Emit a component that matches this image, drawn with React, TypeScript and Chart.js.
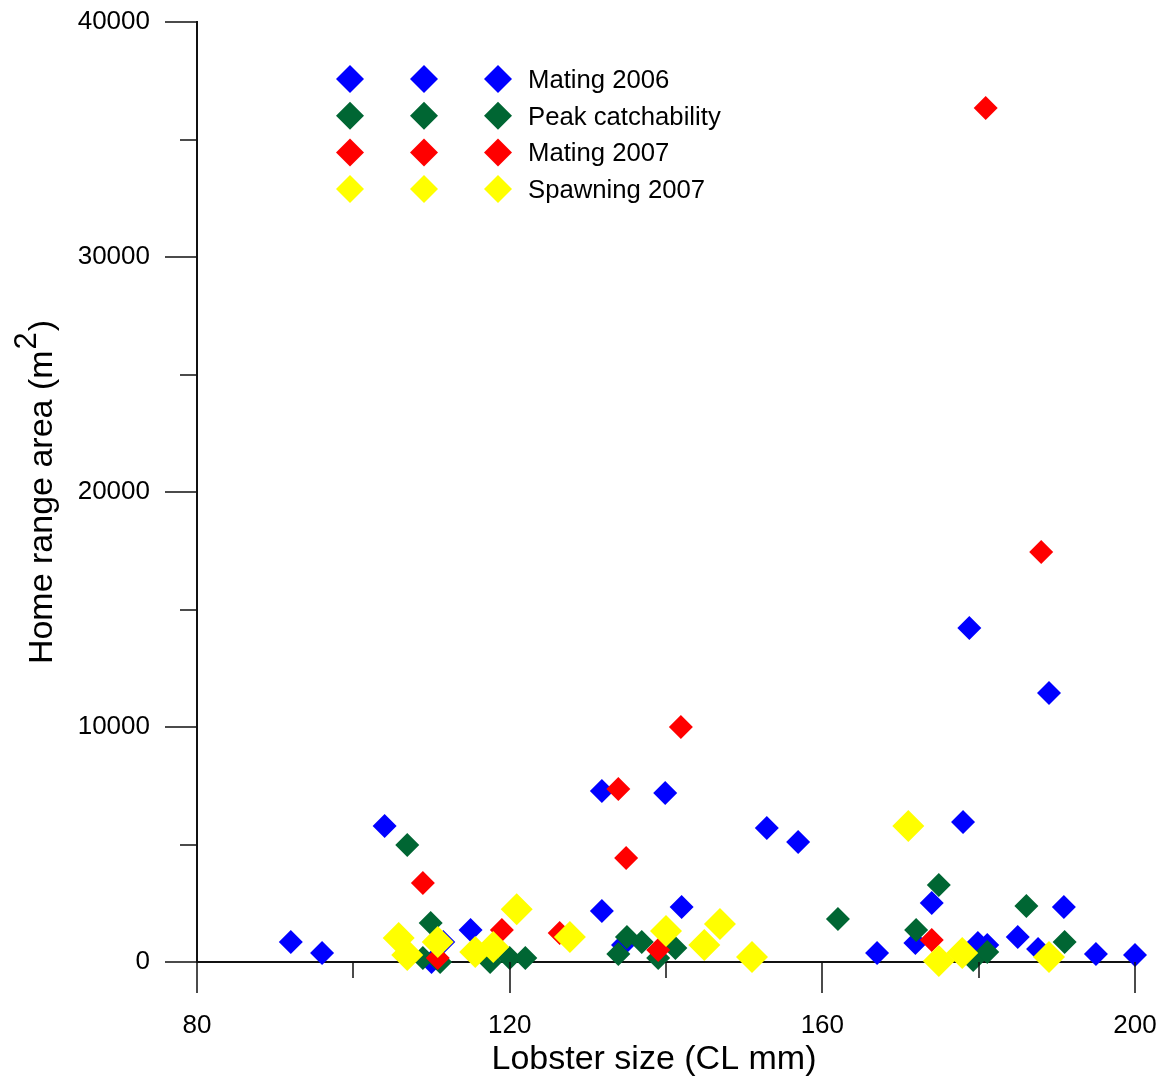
import { useEffect, useRef } from "react";
import { Chart, registerables } from "chart.js";

Chart.register(...registerables);

const FONT = '"Liberation Sans", Arial, Helvetica, sans-serif';

// Series: lobster carapace length (mm) vs home range area (m²)
const mating2006X = [92, 96, 104, 110, 111.5, 115, 131.8, 131.8, 134.5, 139.9, 142, 152.9, 156.9, 167, 171.9, 174, 178, 178.8, 179.9, 181.1, 185, 187.6, 189, 190.9, 195, 200];
const mating2006Y = [850, 380, 5790, 0, 850, 1360, 2170, 7280, 720, 7190, 2340, 5700, 5110, 380, 810, 2510, 5960, 14210, 810, 720, 1060, 550, 11450, 2340, 340, 300];

const peakX = [106.9, 108.9, 109.9, 111.1, 117.5, 120, 122, 133.9, 135, 136.9, 139, 141.2, 162, 172, 174.9, 179.3, 181.1, 186.1, 191];
const peakY = [4980, 170, 1660, 0, 0, 170, 170, 340, 1060, 850, 170, 600, 1830, 1360, 3280, 90, 430, 2380, 850];

const mating2007X = [108.9, 110.8, 119, 126.4, 133.9, 134.9, 139, 141.9, 174, 180.9, 188];
const mating2007Y = [3360, 170, 1360, 1230, 7360, 4430, 510, 10000, 940, 36340, 17450];

const spawningX = [105.8, 106.9, 110.8, 115.6, 117.9, 120.9, 127.7, 140, 144.9, 146.9, 151, 171, 174.9, 177.9, 189];
const spawningY = [1020, 300, 850, 430, 640, 2250, 1060, 1320, 720, 1620, 210, 5790, 40, 380, 210];

const seriesLabels = ["Mating 2006", "Peak catchability", "Mating 2007", "Spawning 2007"];
const seriesColors = ["#0000ff", "#006633", "#ff0000", "#ffff00"];
const markerRadii = [12, 12, 12, 16];

// Axis ticks
const xMajorTicks = [80, 120, 160, 200];
const xMinorTicks = [100, 140, 180];
const yMajorTicks = [0, 10000, 20000, 30000, 40000];
const yMinorTicks = [5000, 15000, 25000, 35000];

const xTitle = "Lobster size (CL mm)";
const yTitleMain = "Home range area (m";
const yTitleSup = "2";
const yTitleEnd = ")";

const toPoints = (xs: number[], ys: number[]) => xs.map((x, i) => ({ x, y: ys[i] }));

function drawDiamond(ctx: CanvasRenderingContext2D, x: number, y: number, r: number, color: string) {
  ctx.beginPath();
  ctx.moveTo(x - r, y);
  ctx.lineTo(x, y - r);
  ctx.lineTo(x + r, y);
  ctx.lineTo(x, y + r);
  ctx.closePath();
  ctx.fillStyle = color;
  ctx.fill();
}

const decorPlugin = {
  id: "axisDecor",
  afterDraw(chart: any) {
    const { ctx, chartArea, scales } = chart;
    const xs = scales.x;
    const ys = scales.y;
    ctx.save();

    // tick marks (major long, minor short)
    ctx.strokeStyle = "#111";
    ctx.lineWidth = 1.5;
    ctx.beginPath();
    xMajorTicks.forEach((v) => {
      const px = Math.round(xs.getPixelForValue(v));
      ctx.moveTo(px, chartArea.bottom);
      ctx.lineTo(px, chartArea.bottom + 31);
    });
    xMinorTicks.forEach((v) => {
      const px = Math.round(xs.getPixelForValue(v));
      ctx.moveTo(px, chartArea.bottom);
      ctx.lineTo(px, chartArea.bottom + 16);
    });
    yMajorTicks.forEach((v) => {
      const py = Math.round(ys.getPixelForValue(v));
      ctx.moveTo(chartArea.left - 32, py);
      ctx.lineTo(chartArea.left, py);
    });
    yMinorTicks.forEach((v) => {
      const py = Math.round(ys.getPixelForValue(v));
      ctx.moveTo(chartArea.left - 17, py);
      ctx.lineTo(chartArea.left, py);
    });
    ctx.stroke();

    // x-axis title
    ctx.fillStyle = "#000";
    ctx.font = `34px ${FONT}`;
    ctx.textAlign = "center";
    ctx.textBaseline = "alphabetic";
    ctx.fillText(xTitle, chartArea.left + 457, chartArea.bottom + 107);

    // y-axis title with superscript
    ctx.save();
    ctx.translate(52, (chartArea.top + chartArea.bottom) / 2);
    ctx.rotate(-Math.PI / 2);
    ctx.textAlign = "left";
    ctx.font = `34px ${FONT}`;
    const wMain = ctx.measureText(yTitleMain).width;
    const wEnd = ctx.measureText(yTitleEnd).width;
    ctx.font = `31px ${FONT}`;
    const wSup = ctx.measureText(yTitleSup).width;
    const total = wMain + wSup + wEnd + 2;
    let cx = -total / 2;
    ctx.font = `34px ${FONT}`;
    ctx.fillText(yTitleMain, cx, 0);
    cx += wMain + 1;
    ctx.font = `31px ${FONT}`;
    ctx.fillText(yTitleSup, cx, -16);
    cx += wSup + 1;
    ctx.font = `34px ${FONT}`;
    ctx.fillText(yTitleEnd, cx, 0);
    ctx.restore();

    // legend: three markers per row then the label
    const lx = chartArea.left + 153;
    const ly = chartArea.top + 57;
    const rowGap = 36.7;
    ctx.font = `25.7px ${FONT}`;
    ctx.textAlign = "left";
    chart.data.datasets.forEach((ds: any, i: number) => {
      const y = ly + i * rowGap;
      [0, 74, 148].forEach((dx) => drawDiamond(ctx, lx + dx, y, 14, ds.backgroundColor));
      ctx.fillStyle = "#000";
      ctx.fillText(ds.label, lx + 178, y + 9);
    });

    ctx.restore();
  },
};

export default function App() {
  const canvasRef = useRef<HTMLCanvasElement | null>(null);

  useEffect(() => {
    const canvas = canvasRef.current;
    if (!canvas) return;
    const seriesX = [mating2006X, peakX, mating2007X, spawningX];
    const seriesY = [mating2006Y, peakY, mating2007Y, spawningY];
    const datasets = seriesLabels.map((label, i) => ({
      label,
      data: toPoints(seriesX[i], seriesY[i]),
      backgroundColor: seriesColors[i],
      borderWidth: 0,
      pointStyle: "rectRot" as const,
      pointRadius: markerRadii[i],
      pointHoverRadius: markerRadii[i],
      order: 4 - i,
      clip: false as const,
    }));

    const chart = new Chart(canvas, {
      type: "scatter",
      data: { datasets },
      options: {
        animation: false,
        responsive: false,
        events: [],
        layout: { autoPadding: false, padding: { top: 22, right: 29, left: 0, bottom: 0 } },
        plugins: {
          legend: { display: false },
          tooltip: { enabled: false },
        },
        scales: {
          x: {
            type: "linear",
            min: 80,
            max: 200,
            afterFit: (s: any) => {
              s.height = 120;
              s.paddingLeft = 0;
              s.paddingRight = 0;
            },
            afterBuildTicks: (s: any) => {
              s.ticks = xMajorTicks.map((value) => ({ value }));
            },
            grid: { display: false, drawTicks: false },
            border: { display: true, color: "#111", width: 2 },
            ticks: {
              padding: 48,
              color: "#000",
              font: { family: FONT, size: 26 },
              maxRotation: 0,
              callback: (v: any) => String(v),
            },
          },
          y: {
            type: "linear",
            min: 0,
            max: 40000,
            afterFit: (s: any) => {
              s.width = 197;
              s.paddingTop = 0;
              s.paddingBottom = 0;
            },
            afterBuildTicks: (s: any) => {
              s.ticks = yMajorTicks.map((value) => ({ value }));
            },
            grid: { display: false, drawTicks: false },
            border: { display: true, color: "#111", width: 2 },
            ticks: {
              padding: 47,
              color: "#000",
              font: { family: FONT, size: 26 },
              callback: (v: any) => String(v),
            },
          },
        },
      },
      plugins: [decorPlugin],
    });

    return () => chart.destroy();
  }, []);

  return (
    <div style={{ position: "absolute", left: 0, top: 0, width: 1164, height: 1082, background: "#fff" }}>
      <canvas ref={canvasRef} width={1164} height={1082} style={{ display: "block" }} />
    </div>
  );
}
